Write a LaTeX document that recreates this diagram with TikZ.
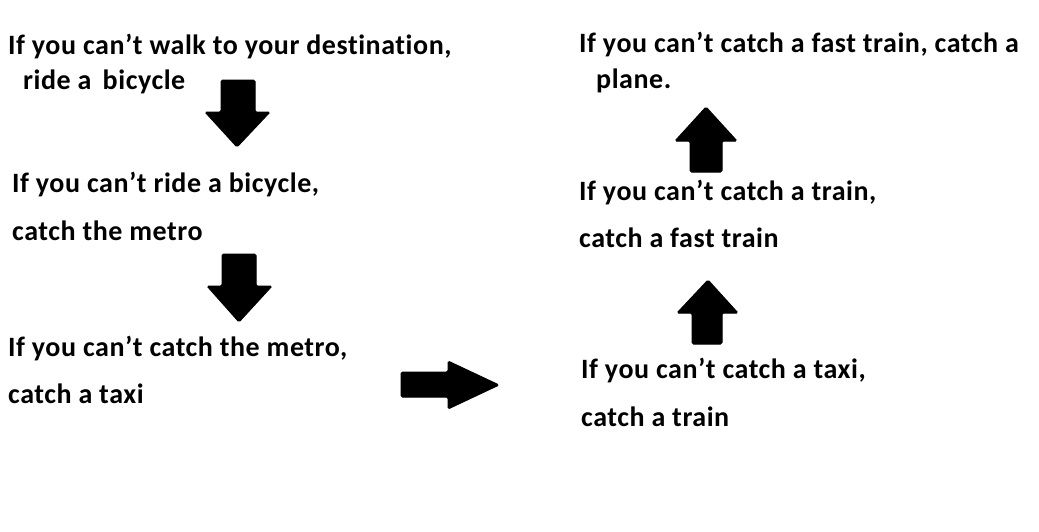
\documentclass[tikz,border=0pt]{standalone}
\usepackage{fontspec}
\setmainfont[Ligatures=NoCommon,LetterSpace=2]{Carlito}

\begin{document}
\begin{tikzpicture}[x=1pt,y=-1pt]

\tikzstyle{every node}=[inner sep=0pt,anchor=base west,font=\fontsize{28}{33}\selectfont\bfseries]
\tikzstyle{blockarrow}=[fill=black,draw=black,line width=1pt,rounded corners=1.5pt]

\useasboundingbox[fill=white] (0,0) rectangle (1039,531);

% left column
\node (walk) at (8,54) {If you can’t walk to your destination,};
\node (walkb) at (23,89) {ride a\hspace{0.4em}bicycle};
\node (bike) at (12,192) {If you can’t ride a bicycle,};
\node (bikeb) at (12,240) {catch the metro};
\node (metro) at (8,356) {If you can’t catch the metro,};
\node (metrob) at (8,403) {catch a taxi};

% right column
\node (taxi) at (581,378) {If you can’t catch a taxi,};
\node (taxib) at (581,426) {catch a train};
\node (train) at (579,200) {If you can’t catch a train,};
\node (trainb) at (579,247) {catch a fast train};
\node (fast) at (579,52) {If you can’t catch a fast train, catch a};
\node (fastb) at (596,88) {plane.};

% down arrows
\draw[blockarrow] (221,80) -- (255,80) -- (255,112) -- (270,112) -- (237,147) -- (205,112) -- (221,112) -- cycle;
\draw[blockarrow] (222,254) -- (256,254) -- (256,286) -- (272,286) -- (239,322) -- (207,286) -- (222,286) -- cycle;

% right arrow
\draw[blockarrow] (401,372) -- (448,372) -- (448,361) -- (499,385) -- (448,409) -- (448,397) -- (401,397) -- cycle;

% up arrows
\draw[blockarrow] (692,344) -- (722,344) -- (722,313) -- (738,313) -- (708,280) -- (677,313) -- (692,313) -- cycle;
\draw[blockarrow] (690,172) -- (722,172) -- (722,141) -- (737,141) -- (706,107) -- (675,141) -- (690,141) -- cycle;

\end{tikzpicture}
\end{document}
